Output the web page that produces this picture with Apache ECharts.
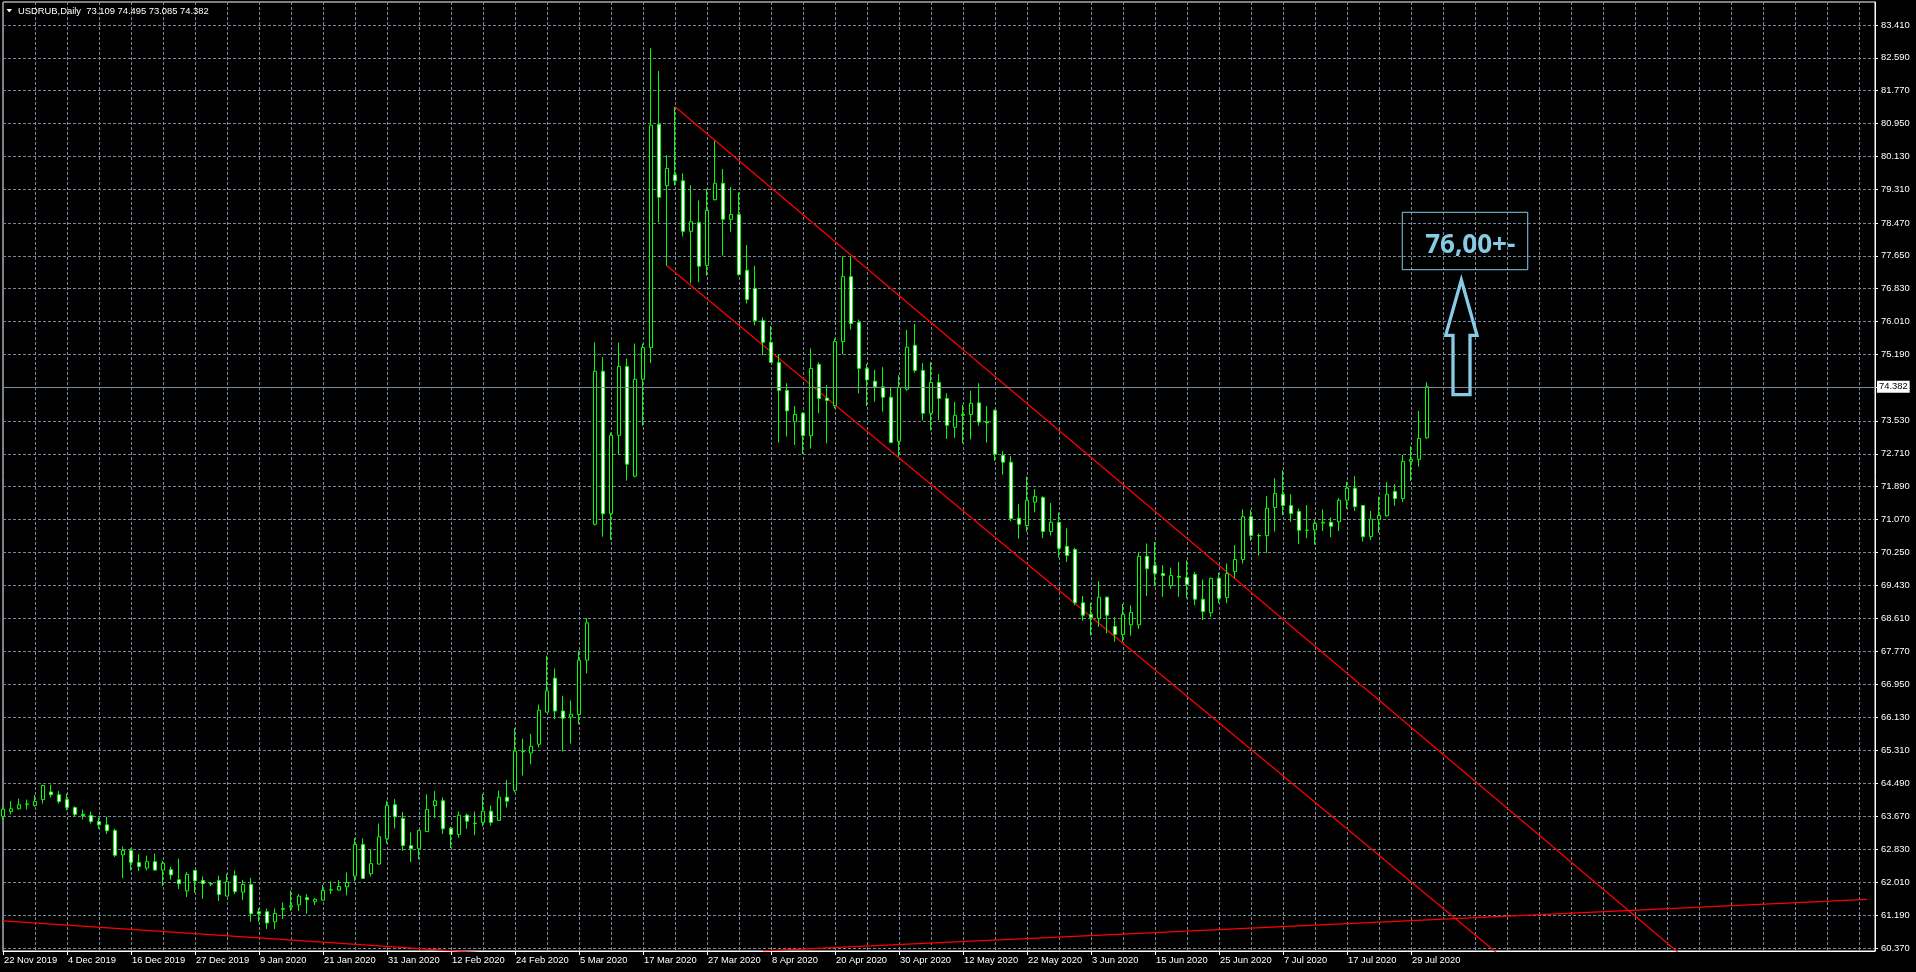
<!DOCTYPE html>
<html>
<head>
<meta charset="utf-8">
<script src="https://cdn.jsdelivr.net/npm/echarts@6/dist/echarts.min.js"></script>
<style>
html,body{margin:0;padding:0;background:#000;overflow:hidden;}
#chart{width:1916px;height:972px;}
</style>
</head>
<body>
<div id="chart"></div>
<script>
const symbol = 'USDRUB';
const period = 'Daily';

const dates = [
'2019-11-22','2019-11-25','2019-11-26','2019-11-27','2019-11-28','2019-11-29',
'2019-12-02','2019-12-03','2019-12-04','2019-12-05','2019-12-06',
'2019-12-09','2019-12-10','2019-12-11','2019-12-12','2019-12-13',
'2019-12-16','2019-12-17','2019-12-18','2019-12-19','2019-12-20',
'2019-12-23','2019-12-24','2019-12-26','2019-12-27','2019-12-30','2019-12-31',
'2020-01-02','2020-01-03','2020-01-06','2020-01-07','2020-01-08','2020-01-09','2020-01-10',
'2020-01-13','2020-01-14','2020-01-15','2020-01-16','2020-01-17',
'2020-01-20','2020-01-21','2020-01-22','2020-01-23','2020-01-24',
'2020-01-27','2020-01-28','2020-01-29','2020-01-30','2020-01-31',
'2020-02-03','2020-02-04','2020-02-05','2020-02-06','2020-02-07',
'2020-02-10','2020-02-11','2020-02-12','2020-02-13','2020-02-14',
'2020-02-17','2020-02-18','2020-02-19','2020-02-20','2020-02-21',
'2020-02-24','2020-02-25','2020-02-26','2020-02-27','2020-02-28',
'2020-03-02','2020-03-03','2020-03-04','2020-03-05','2020-03-06',
'2020-03-09','2020-03-10','2020-03-11','2020-03-12','2020-03-13',
'2020-03-16','2020-03-17','2020-03-18','2020-03-19','2020-03-20',
'2020-03-23','2020-03-24','2020-03-25','2020-03-26','2020-03-27',
'2020-03-30','2020-03-31','2020-04-01','2020-04-02','2020-04-03',
'2020-04-06','2020-04-07','2020-04-08','2020-04-09','2020-04-10',
'2020-04-13','2020-04-14','2020-04-15','2020-04-16','2020-04-17',
'2020-04-20','2020-04-21','2020-04-22','2020-04-23','2020-04-24',
'2020-04-27','2020-04-28','2020-04-29','2020-04-30','2020-05-01',
'2020-05-04','2020-05-05','2020-05-06','2020-05-07','2020-05-08',
'2020-05-11','2020-05-12','2020-05-13','2020-05-14','2020-05-15',
'2020-05-18','2020-05-19','2020-05-20','2020-05-21','2020-05-22',
'2020-05-25','2020-05-26','2020-05-27','2020-05-28','2020-05-29',
'2020-06-01','2020-06-02','2020-06-03','2020-06-04','2020-06-05',
'2020-06-08','2020-06-09','2020-06-10','2020-06-11','2020-06-12',
'2020-06-15','2020-06-16','2020-06-17','2020-06-18','2020-06-19',
'2020-06-22','2020-06-23','2020-06-24','2020-06-25','2020-06-26',
'2020-06-29','2020-06-30','2020-07-01','2020-07-02','2020-07-03',
'2020-07-06','2020-07-07','2020-07-08','2020-07-09','2020-07-10',
'2020-07-13','2020-07-14','2020-07-15','2020-07-16','2020-07-17',
'2020-07-20','2020-07-21','2020-07-22','2020-07-23','2020-07-24',
'2020-07-27','2020-07-28','2020-07-29','2020-07-30','2020-07-31'
];

const opens = [
63.66,63.78,63.85,63.96,63.93,64.08,64.27,64.20,64.08,63.88,
63.71,63.68,63.53,63.45,63.31,62.70,62.81,62.51,62.37,62.53,
62.32,62.33,62.08,61.80,62.31,62.06,61.99,62.06,61.67,62.18,
61.77,61.96,61.28,61.28,61.03,61.34,61.40,61.45,61.63,61.53,
61.57,61.82,61.82,61.90,62.17,62.96,62.23,62.47,63.10,63.95,
63.61,62.93,62.85,63.28,63.93,64.05,63.36,63.21,63.69,63.49,
63.51,63.79,63.56,64.14,64.31,65.27,65.24,65.46,66.26,67.11,
66.29,66.14,66.20,67.56,70.95,74.77,71.21,73.17,74.89,72.15,
74.57,75.36,80.93,79.40,79.67,79.52,78.26,78.48,77.41,79.05,
79.46,78.56,78.68,77.29,76.84,76.03,75.49,74.99,74.29,73.51,
73.72,73.16,74.94,74.10,73.91,75.51,77.13,75.99,74.84,74.52,
74.38,74.12,73.02,74.32,75.42,74.79,73.72,74.49,74.09,73.37,
73.69,73.69,73.98,73.50,73.79,72.67,72.50,71.10,70.92,71.50,
71.62,70.77,71.00,70.40,70.32,68.99,68.70,68.60,69.13,68.40,
68.20,68.44,68.44,70.15,69.92,69.72,69.42,69.65,69.62,69.70,
69.08,68.74,69.60,69.12,69.77,70.07,71.14,70.67,70.67,71.37,
71.70,71.42,71.27,70.80,70.81,70.98,71.00,71.01,71.55,71.85,
71.42,70.64,71.07,71.16,71.77,71.59,72.52,72.57,73.109
];
const highs = [
63.90,64.04,64.10,64.08,64.19,64.45,64.45,64.29,64.23,63.91,
63.83,63.78,63.63,63.65,63.35,62.91,62.86,62.71,62.68,62.73,
62.55,62.40,62.61,62.27,62.31,62.16,62.01,62.18,62.23,62.31,
62.07,62.13,61.37,61.36,61.36,61.51,61.81,61.72,61.72,61.62,
61.95,62.04,62.07,62.26,63.12,63.11,62.83,63.48,64.05,64.09,
63.77,63.26,63.31,64.21,64.29,64.13,63.40,63.78,63.73,63.78,
64.22,63.93,64.30,64.57,65.86,65.60,65.72,66.45,67.67,67.35,
66.67,66.55,67.80,68.61,75.49,75.12,73.24,75.48,75.09,75.46,
75.46,82.83,82.26,80.16,81.37,79.71,79.41,79.03,79.32,80.52,
79.82,79.37,79.23,77.92,77.40,76.11,75.90,75.20,74.47,73.90,
73.75,75.34,74.99,74.42,75.59,77.64,77.64,76.06,74.95,74.80,
74.87,74.36,74.67,75.80,75.95,74.97,74.99,74.70,74.22,74.00,
73.93,74.28,74.47,73.90,73.82,72.77,72.65,71.46,72.14,71.83,
71.65,71.48,71.24,70.85,70.36,69.16,68.99,69.53,69.15,68.63,
68.96,68.93,70.24,70.47,70.51,69.93,69.87,70.01,70.05,69.76,
69.57,69.62,69.74,69.97,70.43,71.32,71.31,70.72,71.65,72.10,
72.30,71.70,71.34,71.43,71.07,71.32,71.12,71.60,72.01,72.15,
71.42,71.28,71.64,72.00,71.95,72.68,72.90,73.78,74.495
];
const lows = [
63.58,63.71,63.83,63.83,63.90,63.98,64.13,63.98,63.81,63.66,
63.58,63.48,63.35,63.22,62.65,62.12,62.31,62.30,62.31,62.31,
61.92,62.08,61.85,61.65,61.75,61.60,61.92,61.55,61.67,61.72,
61.57,61.03,61.03,60.85,60.85,61.10,61.30,61.30,61.23,61.45,
61.55,61.72,61.80,61.69,62.04,62.10,62.16,62.46,62.98,63.36,
62.80,62.52,62.59,63.27,63.62,63.22,62.87,63.13,63.35,63.19,
63.41,63.43,63.56,63.88,64.26,64.68,64.96,65.38,66.26,66.09,
65.28,65.48,65.96,67.23,70.92,70.64,70.56,72.69,72.04,72.12,
73.41,74.97,78.48,77.40,79.40,78.13,76.96,76.99,77.15,79.03,
77.66,78.25,77.15,76.46,75.92,75.17,74.97,72.99,73.14,72.93,
72.70,72.84,73.72,72.97,73.84,75.19,75.81,74.22,73.90,74.01,
73.76,72.97,72.64,74.28,74.73,73.54,73.29,73.55,73.08,73.11,
72.97,73.07,73.41,72.99,72.53,72.19,71.03,70.59,70.76,71.25,
70.60,70.67,70.12,70.01,68.93,68.54,68.17,68.39,68.23,68.02,
68.02,68.17,68.34,69.16,69.41,69.14,69.34,69.14,69.10,68.93,
68.56,68.64,68.98,68.98,69.60,69.97,70.54,70.17,70.24,70.77,
71.18,71.01,70.46,70.60,70.44,70.78,70.63,70.78,71.33,71.28,
70.52,70.56,70.74,71.14,71.41,71.51,72.03,72.39,73.085
];
const closes = [
63.84,63.85,63.95,63.97,64.03,64.43,64.20,64.03,63.88,63.71,
63.68,63.53,63.45,63.30,62.69,62.81,62.51,62.41,62.53,62.32,
62.49,62.20,61.98,62.21,62.05,61.98,61.97,61.71,62.03,61.78,
61.96,61.23,61.23,61.00,61.24,61.36,61.43,61.67,61.58,61.59,
61.81,61.83,61.91,62.01,62.96,62.11,62.48,63.15,63.93,63.65,
62.93,62.85,63.31,63.83,64.05,63.35,63.21,63.69,63.54,63.48,
63.79,63.51,64.14,64.04,65.29,65.28,65.41,66.31,66.79,66.29,
66.11,66.21,67.56,68.49,74.77,71.21,73.17,74.89,72.45,74.57,
75.36,80.91,79.11,79.83,79.52,78.26,78.50,77.39,78.78,79.46,
78.56,78.68,77.18,76.56,76.03,75.49,74.99,74.29,73.78,73.69,
73.16,74.84,74.09,74.04,75.51,77.13,75.96,74.84,74.55,74.38,
74.12,72.99,74.37,75.37,74.79,73.72,74.49,74.09,73.42,73.67,
73.67,73.97,73.50,73.48,72.70,72.50,71.09,70.95,71.55,71.64,
70.77,71.00,70.35,70.17,68.99,68.68,68.62,69.13,68.68,68.20,
68.70,68.75,70.15,69.84,69.72,69.67,69.67,69.63,69.45,69.08,
68.77,69.60,69.10,69.72,70.07,71.14,70.67,70.66,71.35,71.72,
71.42,71.22,70.80,70.80,70.97,71.00,70.90,71.55,71.85,71.39,
70.64,71.08,71.17,71.70,71.59,72.52,72.57,73.09,74.382
];

// empty bars of chart shift to the right of the last candle
const futureBars = 56;

// price scale tick labels (the 74.370 label is covered by the bid label)
const yTickLabels = ['60.370','61.190','62.010','62.830','63.670','64.490','65.310','66.130','66.950','67.770',
  '68.610','69.430','70.250','71.070','71.890','72.710','73.530','74.370','75.190','76.010','76.830',
  '77.650','78.470','79.310','80.130','80.950','81.770','82.590','83.410'];
const hiddenTickLabels = ['74.370'];
const priceMin = 60.3005, priceMax = 83.984;

const bidPrice = 74.382;

// trend lines: [bar index, price]
const channelUpper = [[84, 81.37], [234, 56.125]];
const channelLower = [[83, 77.40], [234, 52.44]];
const trendLeft = [[0, 61.05], [234, 57.95]];
const trendRight = [[95, 60.306], [233, 61.59]];

// annotation objects anchored at [bar index, price]
const noteRect = [[174.91, 78.736], [190.59, 77.303]];
const noteText = '76,00+-';
const noteTextAt = [183.4, 77.91];
const arrowPoly = [[182.29,77.046],[184.25,75.666],[183.375,75.666],[183.375,74.184],[181.25,74.184],[181.25,75.666],[180.34,75.666]];

const MONTHS = ['Jan','Feb','Mar','Apr','May','Jun','Jul','Aug','Sep','Oct','Nov','Dec'];
function fmtDate(s) {
  const p = s.split('-');
  return (+p[2]) + ' ' + MONTHS[+p[1] - 1] + ' ' + p[0];
}
const categories = dates.map(fmtDate);
for (let i = 0; i < futureBars; i++) categories.push('~' + i);
const nReal = dates.length;

const FONT = '"Liberation Sans", Arial, sans-serif';
const FS = 9.4;
const GRIDC = '#778899';
const NOTEC = '#87cbe6';

const candleData = dates.map((d, i) => [opens[i], closes[i], lows[i], highs[i]]);
const yTickValues = yTickLabels.map(Number);
const yLabelValues = yTickLabels.filter(t => hiddenTickLabels.indexOf(t) < 0).map(Number);

const chart = echarts.init(document.getElementById('chart'), null, {renderer: 'canvas'});

function redLine(data) {
  return {
    type: 'line', data: data, symbol: 'none', clip: true, silent: true,
    lineStyle: {color: '#ff0000', width: 1.25}, z: 1, animation: false
  };
}

const option = {
  backgroundColor: '#000',
  animation: false,
  grid: {left: 3, right: 41, top: 2, bottom: 21, show: true, borderColor: '#ffffff', borderWidth: 1, backgroundColor: 'transparent'},
  xAxis: {
    type: 'category',
    data: categories,
    boundaryGap: false,
    axisLine: {show: true, lineStyle: {color: '#ffffff', width: 1}},
    axisTick: {show: true, length: 4, inside: false, lineStyle: {color: '#ffffff'},
      interval: (idx) => idx % 8 === 0 && idx < nReal},
    axisLabel: {
      show: true, color: '#ffffff', fontSize: FS, fontFamily: FONT, align: 'left',
      margin: 5, padding: [0, 0, 0, 1],
      interval: (idx) => idx % 8 === 0 && idx < nReal,
      formatter: (v) => (v.charAt(0) === '~' ? '' : v)
    },
    splitLine: {show: true, interval: (idx) => idx % 4 === 0,
      lineStyle: {color: GRIDC, type: [3, 2], width: 1}}
  },
  yAxis: {
    type: 'value', position: 'right', min: priceMin, max: priceMax,
    axisLine: {show: true, lineStyle: {color: '#ffffff', width: 1}},
    axisTick: {show: true, length: 3, lineStyle: {color: '#ffffff'}, customValues: yTickValues},
    axisLabel: {show: true, color: '#ffffff', fontSize: FS, fontFamily: FONT, margin: 6,
      customValues: yLabelValues,
      formatter: (v) => {
        const i = yTickValues.findIndex(t => Math.abs(t - v) < 1e-6);
        return i >= 0 ? yTickLabels[i] : '';
      }},
    splitLine: {show: true, lineStyle: {color: GRIDC, type: [3, 2], width: 1}}
  },
  series: [
    redLine(trendLeft),
    redLine(trendRight),
    redLine(channelUpper),
    redLine(channelLower),
    {
      type: 'candlestick',
      data: candleData,
      barWidth: 4,
      z: 3,
      itemStyle: {
        color: '#000000', color0: '#ffffff',
        borderColor: '#00ff00', borderColor0: '#00ff00', borderWidth: 1
      },
      markLine: {
        silent: true, symbol: ['none', 'none'], animation: false, precision: 3,
        lineStyle: {color: GRIDC, type: 'solid', width: 1},
        label: {show: true, position: 'end', distance: 2, formatter: () => bidPrice.toFixed(3),
          color: '#000000', backgroundColor: '#ffffff', padding: [2, 2, 1, 2],
          fontSize: FS, fontFamily: FONT},
        data: [{yAxis: bidPrice}]
      }
    }
  ],
  graphic: []
};
chart.setOption(option);

// map [bar index, price] to pixels (fractional bar index interpolated)
function toPx(pt) {
  const a = chart.convertToPixel({gridIndex: 0}, [0, pt[1]]);
  const b = chart.convertToPixel({gridIndex: 0}, [100, pt[1]]);
  return [a[0] + (b[0] - a[0]) * pt[0] / 100, a[1]];
}
const r0 = toPx(noteRect[0]), r1 = toPx(noteRect[1]);
const tp = toPx(noteTextAt);
const last = dates.length - 1;
const headerText = symbol + ',' + period + '  ' + opens[last].toFixed(3) + ' ' + highs[last].toFixed(3) + ' ' +
  lows[last].toFixed(3) + ' ' + closes[last].toFixed(3);

chart.setOption({
  graphic: [
    {type: 'polygon', shape: {points: [[6.5, 9], [12, 9], [9.25, 12.5]]}, style: {fill: '#ffffff'}, z: 10, silent: true},
    {type: 'text', x: 18, y: 11, style: {text: headerText, fill: '#ffffff', font: FS + 'px ' + FONT, textVerticalAlign: 'middle'}, z: 10, silent: true},
    {type: 'rect', shape: {x: r0[0], y: r0[1], width: r1[0] - r0[0], height: r1[1] - r0[1]},
      style: {fill: 'none', stroke: NOTEC, lineWidth: 1}, z: 10, silent: true},
    {type: 'text', x: tp[0], y: tp[1], style: {text: noteText, fill: NOTEC, font: 'bold 26px "Open Sans", sans-serif',
      textAlign: 'center', textVerticalAlign: 'middle'}, z: 10, silent: true},
    {type: 'polygon', shape: {points: arrowPoly.map(toPx)}, style: {fill: 'none', stroke: NOTEC, lineWidth: 3.3, lineJoin: 'miter'}, z: 10, silent: true}
  ]
});
</script>
</body>
</html>
